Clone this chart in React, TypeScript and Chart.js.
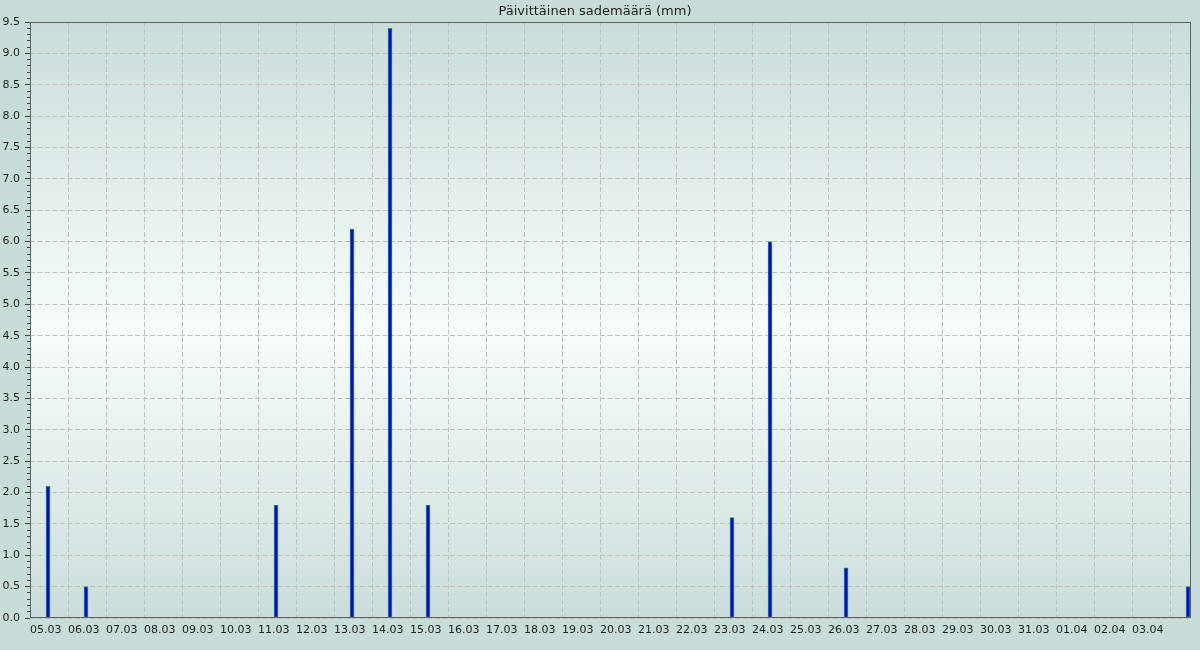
import React, { useEffect, useRef } from "react";
import { Chart, registerables } from "chart.js";

Chart.register(...registerables);

const TITLE = "Päivittäinen sademäärä (mm)";
const dates = [
  "05.03", "06.03", "07.03", "08.03", "09.03", "10.03", "11.03", "12.03", "13.03", "14.03",
  "15.03", "16.03", "17.03", "18.03", "19.03", "20.03", "21.03", "22.03", "23.03", "24.03",
  "25.03", "26.03", "27.03", "28.03", "29.03", "30.03", "31.03", "01.04", "02.04", "03.04",
  "04.04",
];
const rain = [
  2.1, 0.5, 0, 0, 0, 0, 1.8, 0, 6.2, 9.4,
  1.8, 0, 0, 0, 0, 0, 0, 0, 1.6, 6.0,
  0, 0.8, 0, 0, 0, 0, 0, 0, 0, 0,
  0.5,
];
const labeledDays = 30;
const Y_MIN = 0;
const Y_MAX = 9.5;
const X_MAX_DAYS = 30.526;
const BAR_OFFSET = 0.474;

const isMajor = (v: number) => Math.abs(v * 2 - Math.round(v * 2)) < 1e-6;

const bgPlugin = {
  id: "bgPlugin",
  beforeDraw(chart: any) {
    const { ctx, chartArea, width, height } = chart;
    ctx.save();
    ctx.fillStyle = "#c8dcd9";
    ctx.fillRect(0, 0, width, height);
    const g = ctx.createLinearGradient(0, chartArea.top, 0, chartArea.bottom);
    g.addColorStop(0, "#cadddb");
    g.addColorStop(0.52, "#f8fdfd");
    g.addColorStop(1, "#cadddb");
    ctx.fillStyle = g;
    ctx.fillRect(chartArea.left, chartArea.top, chartArea.right - chartArea.left, chartArea.bottom - chartArea.top);
    ctx.restore();
  },
  afterDraw(chart: any) {
    const { ctx, chartArea } = chart;
    ctx.save();
    ctx.strokeStyle = "#606060";
    ctx.lineWidth = 1;
    ctx.strokeRect(
      Math.round(chartArea.left) + 0.5,
      Math.round(chartArea.top) + 0.5,
      Math.round(chartArea.right) - Math.round(chartArea.left),
      Math.round(chartArea.bottom) - Math.round(chartArea.top) - 1
    );
    ctx.restore();
  },
};

export default function App() {
  const ref = useRef<HTMLCanvasElement | null>(null);

  useEffect(() => {
    document.body.style.margin = "0";
    if (!ref.current) return;
    const data = rain
      .map((v, i) => ({ x: i + BAR_OFFSET, y: v > 0 ? v : null }))
      .filter((p) => p.y !== null);
    const chart = new Chart(ref.current, {
      type: "bar",
      data: {
        datasets: [
          {
            label: TITLE,
            data: data as any,
            backgroundColor: "#0000ff",
            borderColor: "#2f9a2f",
            borderWidth: 1,
            borderSkipped: false,
            barThickness: 4,
          },
        ],
      },
      plugins: [bgPlugin],
      options: {
        responsive: false,
        animation: false,
        layout: { padding: { left: 0, right: 10, top: 0, bottom: 0 } },
        plugins: {
          legend: { display: false },
          tooltip: { enabled: false },
          title: {
            display: true,
            text: TITLE,
            color: "#1e1e1e",
            font: { family: "DejaVu Sans", size: 13, weight: "normal" },
            padding: { top: 3.4, bottom: 3 },
          },
        },
        scales: {
          x: {
            type: "linear",
            min: 0,
            max: X_MAX_DAYS,
            offset: false,
            afterFit: (s: any) => {
              s.height = 32;
            },
            grid: {
              offset: false,
              color: "#c0c0c0",
              drawTicks: false,
            },
            border: { display: false, dash: [5, 2.5] },
            ticks: {
              stepSize: 1,
              includeBounds: false,
              autoSkip: false,
              maxRotation: 0,
              minRotation: 0,
              align: "start",
              padding: 6,
              color: "#1e1e1e",
              font: { family: "DejaVu Sans", size: 11 },
              callback: (v: any) => {
                const i = Math.round(Number(v));
                return i >= 0 && i < labeledDays && Math.abs(Number(v) - i) < 1e-6 ? dates[i] : "";
              },
            },
          },
          y: {
            type: "linear",
            min: Y_MIN,
            max: Y_MAX,
            afterFit: (s: any) => {
              s.width = 30;
            },
            grid: {
              color: (c: any) => (c.tick && isMajor(c.tick.value) ? "#c0c0c0" : "rgba(0,0,0,0)"),
              tickColor: "#444444",
              tickLength: 5,
              tickWidth: 1,
              tickBorderDash: (c: any) => (c.tick && isMajor(c.tick.value) ? [10, 0] : [0, 2, 10, 0]),
            } as any,
            border: { display: false, dash: [5, 2.5] },
            ticks: {
              stepSize: 0.1,
              autoSkip: false,
              padding: 5,
              color: "#1e1e1e",
              font: { family: "DejaVu Sans", size: 11 },
              callback: (v: any) => (isMajor(Number(v)) ? Number(v).toFixed(1) : ""),
            },
          },
        },
      } as any,
    });
    return () => chart.destroy();
  }, []);

  return (
    <div style={{ position: "absolute", left: 0, top: 0, width: 1200, height: 650 }}>
      <canvas ref={ref} width={1200} height={650} style={{ display: "block" }} />
    </div>
  );
}
